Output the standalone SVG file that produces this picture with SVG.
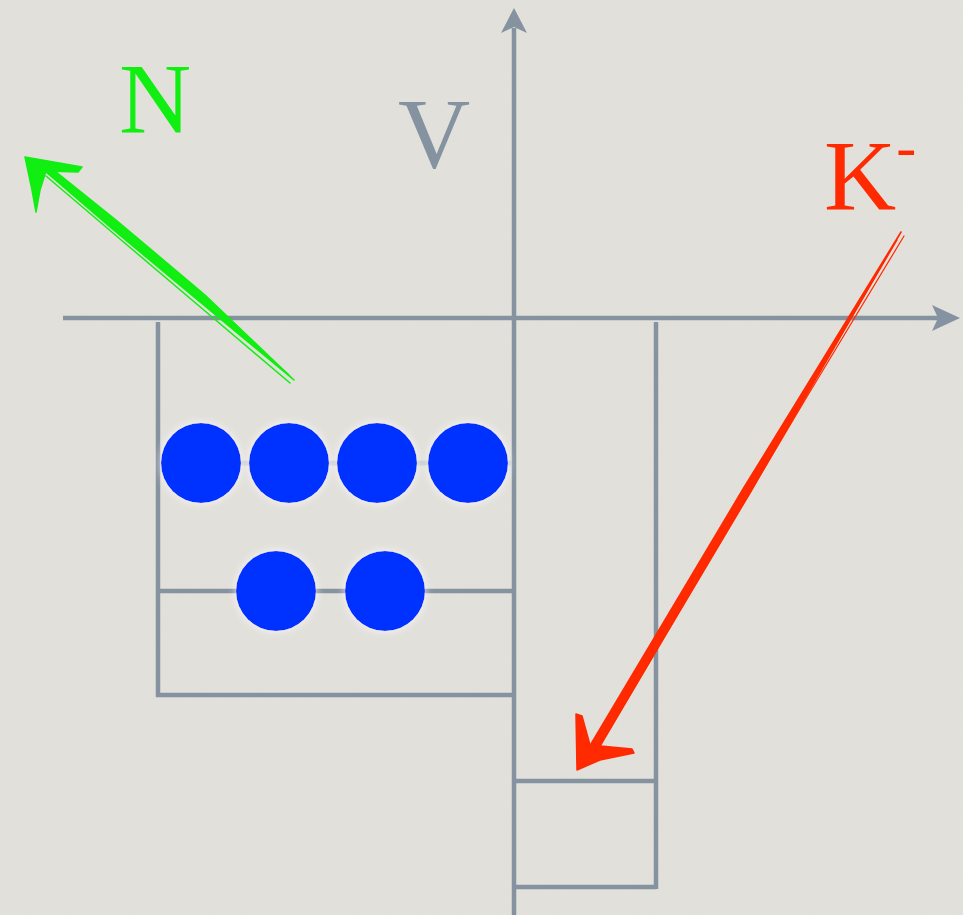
<svg xmlns="http://www.w3.org/2000/svg" width="963" height="915" viewBox="0 0 963 915">
  <defs>
    <style>
      .ax { stroke: #8592a0; stroke-width: 4.5; fill: none; stroke-linecap: butt; }
      .ahead { fill: #8592a0; }
      .lbl { font-family: "Liberation Serif", "Times New Roman", serif; font-size: 100px; }
      .ball { fill: #0433ff; }
      .gfill { fill: #11ee11; stroke: #11ee11; stroke-width: 1.5; stroke-linejoin: round; }
      .gline { stroke: #11ee11; fill: none; stroke-width: 1.5; stroke-linecap: round; }
      .rfill { fill: #ff2a00; stroke: #ff2a00; stroke-width: 1.5; stroke-linejoin: round; }
      .rline { stroke: #ff2a00; fill: none; stroke-width: 1.2; stroke-linecap: round; }
    </style>
    <filter id="glow" x="-30%" y="-30%" width="160%" height="160%">
      <feGaussianBlur in="SourceAlpha" stdDeviation="4" result="b"/>
      <feFlood flood-color="#ffffff" flood-opacity="0.8"/>
      <feComposite in2="b" operator="in" result="w"/>
      <feMerge><feMergeNode in="w"/><feMergeNode in="SourceGraphic"/></feMerge>
    </filter>
    <filter id="paper" x="0" y="0" width="100%" height="100%">
      <feTurbulence type="fractalNoise" baseFrequency="0.9" numOctaves="2" seed="3" result="n"/>
      <feColorMatrix in="n" type="matrix" values="0 0 0 0 0.5  0 0 0 0 0.5  0 0 0 0 0.5  0 0 0 0.06 0"/>
    </filter>
  </defs>
  <rect width="963" height="915" fill="#e3e1dc"/>
  <rect width="963" height="915" filter="url(#paper)"/>

  <g id="connectors">
    <!-- axes -->
    <line class="ax" x1="63" y1="318" x2="940" y2="318"/>
    <polygon class="ahead" points="960,318 932,305 938,318 932,331"/>
    <line class="ax" x1="514" y1="915" x2="514" y2="28"/>
    <polygon class="ahead" points="514,8 501,33 514,27 527,33"/>
    <!-- left well -->
    <line class="ax" x1="158" y1="322" x2="158" y2="697"/>
    <line class="ax" x1="156" y1="695" x2="514" y2="695"/>
    <line class="ax" x1="158" y1="591" x2="514" y2="591"/>
    <line x1="160" y1="463" x2="512" y2="463" stroke="#c5cbd0" stroke-width="5"/>
    <!-- right well -->
    <line class="ax" x1="656" y1="322" x2="656" y2="889"/>
    <line class="ax" x1="514" y1="781" x2="656" y2="781"/>
    <line class="ax" x1="514" y1="887" x2="656" y2="887"/>
    <!-- green arrow N -->
    <g id="arrow-N">
      <path class="gfill" d="M294,380 L200,302 L110,227 L45,171 L39,165 L42,161 L50,167 L116,220 L205,295 Z"/>
      <path class="gline" d="M288,374 L190,292 L100,216 L34,162"/>
      <path class="gline" d="M290,383 L205,311 L120,239 L46,176"/>
      <path class="gfill" d="M25,157 L82,167 L78,172 L46,171 L40,190 L36,212 L32,190 Z"/>
    </g>
    <!-- red arrow K- -->
    <g id="arrow-K">
      <path class="rfill" d="M901,232 L750,493 L596,752 L590,754 L588,749 L743,489 Z"/>
      <path class="rline" d="M897,240 L800,405 L700,575 L592,757"/>
      <path class="rline" d="M904,236 L805,400 L705,568 L598,750"/>
      <path class="rfill" d="M577,770 L576,714 L582,716 L590,745 L632,749 L634,753 L600,760 Z"/>
    </g>
  </g>

  <g id="nucleons" filter="url(#glow)">
    <circle id="n1" class="ball" cx="201" cy="463" r="40"/>
    <circle id="n2" class="ball" cx="289" cy="463" r="40"/>
    <circle id="n3" class="ball" cx="377" cy="463" r="40"/>
    <circle id="n4" class="ball" cx="468" cy="463" r="40"/>
    <circle id="n5" class="ball" cx="276" cy="591" r="40"/>
    <circle id="n6" class="ball" cx="385" cy="591" r="40"/>
  </g>

  <g id="label-N"><text class="lbl" x="119" y="132" fill="#11ee11">N</text></g>
  <g id="label-V"><text class="lbl" x="398" y="167" fill="#8592a0">V</text></g>
  <g id="label-K"><text class="lbl" x="824" y="209" fill="#ff2a00">K<tspan font-size="60" dy="-42">-</tspan></text></g>
</svg>
